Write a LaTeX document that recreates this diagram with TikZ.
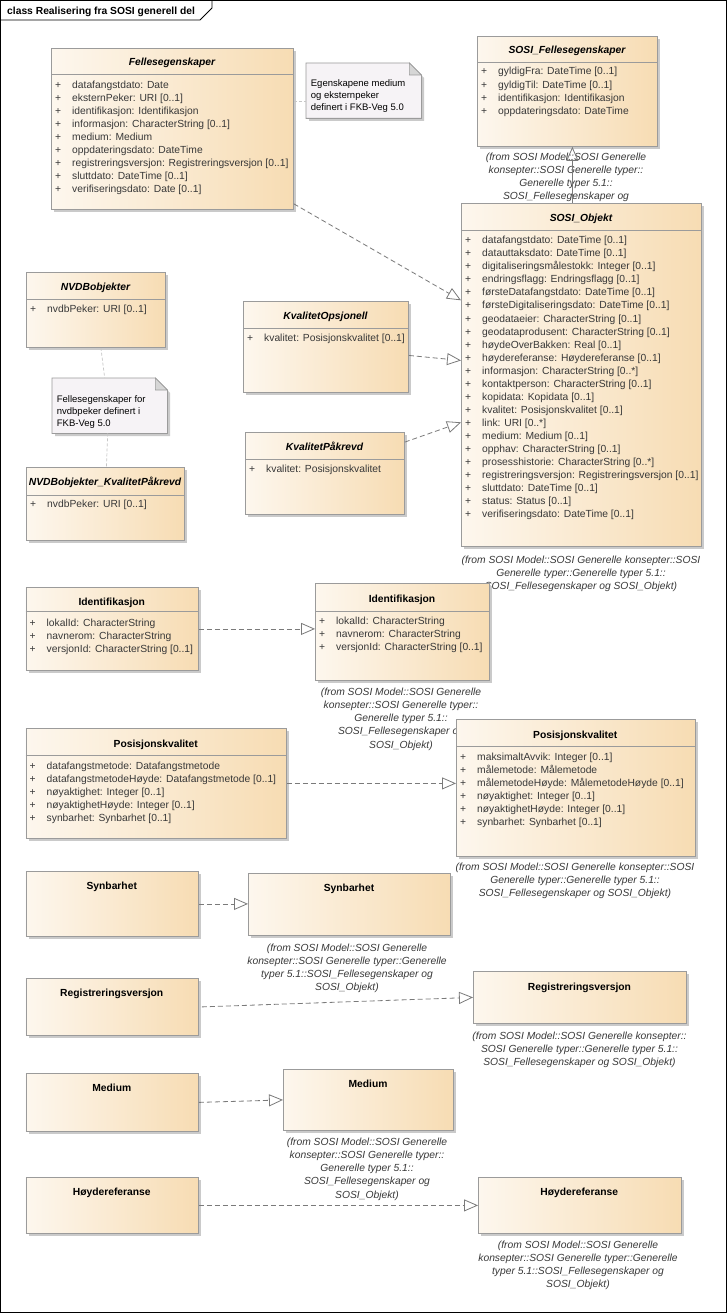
\documentclass[tikz,border=0pt]{standalone}
\usepackage{fontspec}
\setmainfont{Liberation Sans}
\usetikzlibrary{arrows.meta, positioning, calc}
\definecolor{clsLight}{HTML}{FDF7EE}
\definecolor{clsDark}{HTML}{F7DCB3}
\definecolor{clsBorder}{HTML}{9B9B9B}
\definecolor{boxShadow}{HTML}{CACACA}
\definecolor{attrGray}{HTML}{383838}
\definecolor{noteFill}{HTML}{F6F3F6}
\definecolor{foldGray}{HTML}{D6D6D6}
\definecolor{lineGray}{HTML}{7A7A7A}
\newcommand{\umlfont}{\fontsize{10.3}{13}\selectfont}
\newcommand{\originfont}{\fontsize{10.3}{13.2}\selectfont}
\newcommand{\notefont}{\fontsize{9.5}{12.4}\selectfont}

\tikzset{
    classbox/.style={draw=clsBorder, line width=0.8pt, left color=clsLight, right color=clsDark, inner sep=0pt, anchor=north west},
    abstitle/.style={font=\umlfont\bfseries\itshape, inner sep=0pt, anchor=base},
    plaintitle/.style={font=\umlfont\bfseries, inner sep=0pt, anchor=base},
    attrtext/.style={font=\umlfont, text=attrGray, inner sep=0pt, anchor=base west},
    origin/.style={font=\originfont\itshape, text=attrGray, align=center, inner sep=0pt, anchor=north},
    notetext/.style={font=\notefont, align=left, inner sep=0pt, anchor=north west},
    realize/.style={draw=lineGray, line width=0.8pt, dash pattern=on 5pt off 3pt, -{Triangle[open, length=14pt, width=12pt]}},
    generalize/.style={draw=lineGray, line width=0.8pt, -{Triangle[open, length=14pt, width=12pt]}},
    noteline/.style={draw=gray!45, line width=0.7pt, dash pattern=on 3pt off 2pt}
}

% class box: name, x1, y1, x2, y2, name y, title style, title
\newcommand{\UMLClass}[8]{
    % Shadow
    \fill[boxShadow] ({#2+3},{#3+3}) rectangle ({#4+3},{#5+3});
    % Box
    \node[classbox, minimum width={(#4-#2)*1pt}, minimum height={(#5-#3)*1pt}] (#1) at (#2,#3) {};
    % Name
    \node[#7] (#1-name) at ({(#2+#4)/2},{#6+3.7}) {#8};
}
% line under the name compartment
\newcommand{\Compartment}[2]{
    \draw[clsBorder, line width=0.8pt] (#1.west |- 0,#2) -- (#1.east |- 0,#2);
}
% attributes: name, x1, first baseline, row step, list
\newcommand{\Attrs}[5]{
    \foreach \txt [count=\row from 0] in {#5} {
        \node[attrtext] (#1-p\row) at ({#2+4},{#3+\row*#4}) {+};
        \node[attrtext] (#1-a\row) at ({#2+21},{#3+\row*#4}) {\txt};
    }
}
% note: name, x1, y1, x2, y2
\newcommand{\UMLNote}[5]{
    \fill[boxShadow] ({#2+3},{#3+3}) -- ({#4-9},{#3+3}) -- ({#4+3},{#3+15}) -- ({#4+3},{#5+3}) -- ({#2+3},{#5+3}) -- cycle;
    \node[inner sep=0pt, anchor=north west, minimum width={(#4-#2)*1pt}, minimum height={(#5-#3)*1pt}] (#1) at (#2,#3) {};
    \draw[draw=clsBorder, fill=noteFill, line width=0.8pt] (#1.north west) -- ([xshift=-12pt]#1.north east) -- ([yshift=-12pt]#1.north east) -- (#1.south east) -- (#1.south west) -- cycle;
    \draw[draw=clsBorder, fill=foldGray, line width=0.6pt] ([xshift=-12pt]#1.north east) -- ([xshift=-12pt, yshift=-12pt]#1.north east) -- ([yshift=-12pt]#1.north east) -- cycle;
}

\begin{document}
\begin{tikzpicture}[x=1pt, y=-1pt]
    \useasboundingbox (0,0) rectangle (727,1313);
    \fill[white] (0,0) rectangle (727,1313);

    % Frame
    \draw[black, line width=0.8pt] (0.5,0.5) rectangle (726.5,1312.5);
    \draw[black, line width=0.8pt] (0.5,20) -- (200,20) -- (212,8) -- (212,0.5);
    \node[plaintitle, anchor=base west] (frame-title) at (7,14.7) {class Realisering fra SOSI generell del};

    % Origin texts (boxes are drawn over them)
    \node[origin] (sf-from) at (566,152.4) {(from SOSI Model::SOSI Generelle\\konsepter::SOSI Generelle typer::\\Generelle typer 5.1::\\SOSI\_Fellesegenskaper og\\SOSI\_Objekt)};
    \node[origin] (obj-from) at (581,555.7) {(from SOSI Model::SOSI Generelle konsepter::SOSI\\Generelle typer::Generelle typer 5.1::\\SOSI\_Fellesegenskaper og SOSI\_Objekt)};
    \node[origin] (idR-from) at (401,687.7) {(from SOSI Model::SOSI Generelle\\konsepter::SOSI Generelle typer::\\Generelle typer 5.1::\\SOSI\_Fellesegenskaper og\\SOSI\_Objekt)};
    \node[origin] (pkR-from) at (575,862.7) {(from SOSI Model::SOSI Generelle konsepter::SOSI\\Generelle typer::Generelle typer 5.1::\\SOSI\_Fellesegenskaper og SOSI\_Objekt)};
    \node[origin] (synR-from) at (347,943.7) {(from SOSI Model::SOSI Generelle\\konsepter::SOSI Generelle typer::Generelle\\typer 5.1::SOSI\_Fellesegenskaper og\\SOSI\_Objekt)};
    \node[origin] (regR-from) at (579.5,1031.7) {(from SOSI Model::SOSI Generelle konsepter::\\SOSI Generelle typer::Generelle typer 5.1::\\SOSI\_Fellesegenskaper og SOSI\_Objekt)};
    \node[origin] (medR-from) at (367,1137.7) {(from SOSI Model::SOSI Generelle\\konsepter::SOSI Generelle typer::\\Generelle typer 5.1::\\SOSI\_Fellesegenskaper og\\SOSI\_Objekt)};
    \node[origin] (hoyR-from) at (578,1240.7) {(from SOSI Model::SOSI Generelle\\konsepter::SOSI Generelle typer::Generelle\\typer 5.1::SOSI\_Fellesegenskaper og\\SOSI\_Objekt)};

    % Upper part
    \UMLClass{fell}{51}{48}{293}{209}{61.7}{abstitle}{Fellesegenskaper}
    \Compartment{fell}{74}
    \Attrs{fell}{51}{88.2}{13}{datafangstdato: Date, eksternPeker: URI [0..1], identifikasjon: Identifikasjon, informasjon: CharacterString [0..1], medium: Medium, oppdateringsdato: DateTime, registreringsversjon: Registreringsversjon [0..1], sluttdato: DateTime [0..1], verifiseringsdato: Date [0..1]}

    \UMLClass{sf}{477}{36}{657}{146}{50}{abstitle}{SOSI\_Fellesegenskaper}
    \Compartment{sf}{62}
    \Attrs{sf}{477}{74.9}{13.3}{gyldigFra: DateTime [0..1], gyldigTil: DateTime [0..1], identifikasjon: Identifikasjon, oppdateringsdato: DateTime}

    \UMLClass{obj}{461}{203}{701}{546}{217.7}{abstitle}{SOSI\_Objekt}
    \Compartment{obj}{230}
    \Attrs{obj}{461}{243.7}{13.05}{datafangstdato: DateTime [0..1], datauttaksdato: DateTime [0..1], digitaliseringsmålestokk: Integer [0..1], endringsflagg: Endringsflagg [0..1], førsteDatafangstdato: DateTime [0..1], førsteDigitaliseringsdato: DateTime [0..1], geodataeier: CharacterString [0..1], geodataprodusent: CharacterString [0..1], høydeOverBakken: Real [0..1], høydereferanse: Høydereferanse [0..1], informasjon: CharacterString [0..*], kontaktperson: CharacterString [0..1], kopidata: Kopidata [0..1], kvalitet: Posisjonskvalitet [0..1], link: URI [0..*], medium: Medium [0..1], opphav: CharacterString [0..1], prosesshistorie: CharacterString [0..*], registreringsversjon: Registreringsversjon [0..1], sluttdato: DateTime [0..1], status: Status [0..1], verifiseringsdato: DateTime [0..1]}

    \UMLClass{nvdb}{26}{272}{165}{347}{287}{abstitle}{NVDBobjekter}
    \Compartment{nvdb}{299}
    \Attrs{nvdb}{26}{312.2}{13}{nvdbPeker: URI [0..1]}

    \UMLClass{nvdbkp}{26}{467}{184}{540}{482}{abstitle}{NVDBobjekter\_KvalitetPåkrevd}
    \Compartment{nvdbkp}{495}
    \Attrs{nvdbkp}{26}{507.2}{13}{nvdbPeker: URI [0..1]}

    \UMLClass{kvop}{243}{301}{408}{392}{316}{abstitle}{KvalitetOpsjonell}
    \Compartment{kvop}{328}
    \Attrs{kvop}{243}{341.2}{13}{kvalitet: Posisjonskvalitet [0..1]}

    \UMLClass{kvpk}{245}{432}{404}{514}{447}{abstitle}{KvalitetPåkrevd}
    \Compartment{kvpk}{459}
    \Attrs{kvpk}{245}{472.2}{13}{kvalitet: Posisjonskvalitet}

    % Notes
    \UMLNote{note1}{306}{63}{421}{118}
    \node[notetext] (note1-text) at (310.7,79) {Egenskapene medium\\og eksternpeker\\definert i FKB-Veg 5.0};
    \UMLNote{note2}{52}{378}{167}{433}
    \node[notetext] (note2-text) at (56.7,395) {Fellesegenskaper for\\nvdbpeker definert i\\FKB-Veg 5.0};

    % Lower part
    \UMLClass{idL}{25.5}{587}{198}{670}{602}{plaintitle}{Identifikasjon}
    \Compartment{idL}{611}
    \Attrs{idL}{25.5}{626.2}{13.3}{lokalId: CharacterString, navnerom: CharacterString, versjonId: CharacterString [0..1]}

    \UMLClass{idR}{315}{583}{489}{680}{599}{plaintitle}{Identifikasjon}
    \Compartment{idR}{611}
    \Attrs{idR}{315}{624.2}{13.1}{lokalId: CharacterString, navnerom: CharacterString, versjonId: CharacterString [0..1]}

    \UMLClass{pkL}{25.5}{728}{286}{838}{744}{plaintitle}{Posisjonskvalitet}
    \Compartment{pkL}{755}
    \Attrs{pkL}{25.5}{769.2}{13}{datafangstmetode: Datafangstmetode, datafangstmetodeHøyde: Datafangstmetode [0..1], nøyaktighet: Integer [0..1], nøyaktighetHøyde: Integer [0..1], synbarhet: Synbarhet [0..1]}

    \UMLClass{pkR}{456}{719}{694.5}{856}{735}{plaintitle}{Posisjonskvalitet}
    \Compartment{pkR}{746}
    \Attrs{pkR}{456}{760.2}{13}{maksimaltAvvik: Integer [0..1], målemetode: Målemetode, målemetodeHøyde: MålemetodeHøyde [0..1], nøyaktighet: Integer [0..1], nøyaktighetHøyde: Integer [0..1], synbarhet: Synbarhet [0..1]}

    \UMLClass{synL}{25.5}{871}{198}{936}{886}{plaintitle}{Synbarhet}
    \UMLClass{synR}{248}{873}{450}{935}{888}{plaintitle}{Synbarhet}
    \UMLClass{regL}{25.5}{978}{198}{1035}{993}{plaintitle}{Registreringsversjon}
    \UMLClass{regR}{473}{971}{686}{1023}{987}{plaintitle}{Registreringsversjon}
    \UMLClass{medL}{25.5}{1073}{198}{1131}{1088}{plaintitle}{Medium}
    \UMLClass{medR}{283}{1069}{453}{1130}{1084}{plaintitle}{Medium}
    \UMLClass{hoyL}{25.5}{1177}{198}{1233}{1192}{plaintitle}{Høydereferanse}
    \UMLClass{hoyR}{478}{1177}{680.5}{1233}{1192}{plaintitle}{Høydereferanse}

    % Note links
    \path ([yshift=-11pt]note1.west) coordinate (note1-in);
    \draw[noteline] (note1-in -| fell.east) -- (note1-in);
    \draw[noteline] ([xshift=5pt]nvdb.south) -- ([xshift=-5pt]note2.north);
    \draw[noteline] ([xshift=-2pt]note2.south) -- ([xshift=1pt]nvdbkp.north);

    % Generalization
    \coordinate (gen-foot) at ($(obj.north west)!0.4625!(obj.north east)$);
    \draw[generalize] (gen-foot) -- (gen-foot |- sf.south);

    % Realizations
    \draw[realize] ($(fell.north east)!0.963!(fell.south east)$) -- ($(obj.north west)!0.283!(obj.south west)$);
    \draw[realize] ($(kvop.north east)!0.593!(kvop.south east)$) -- ($(obj.north west)!0.458!(obj.south west)$);
    \draw[realize] ($(kvpk.north east)!0.122!(kvpk.south east)$) -- ($(obj.north west)!0.638!(obj.south west)$);
    \draw[realize] (idL.east) -- (idL.east -| idR.west);
    \draw[realize] (pkL.east) -- (pkL.east -| pkR.west);
    \draw[realize] (synL.east) -- (synL.east -| synR.west);
    \draw[realize] ([xshift=3pt]regL.east) -- (regR.west);
    \draw[realize] (medL.east) -- (medR.west);
    \draw[realize] (hoyL.east) -- (hoyR.west);
\end{tikzpicture}
\end{document}
